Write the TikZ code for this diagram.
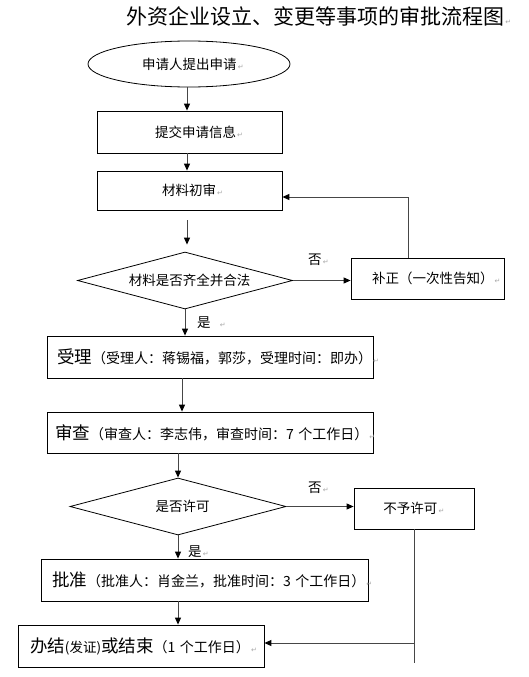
\documentclass[tikz,border=0pt]{standalone}
\usepackage{fontspec}
\setmainfont{Noto Sans CJK SC}
\newfontfamily\symfont{DejaVu Sans}
\usetikzlibrary{shapes.geometric,arrows.meta}
\newcommand\retm{{\symfont\fontsize{7}{7}\selectfont\color{gray!70}\,↵}}
\newcommand\fsS{\fontsize{13.5}{16}\selectfont}
\newcommand\fsP{\fontsize{14}{16}\selectfont}
\newcommand\fsL{\fontsize{17.5}{20}\selectfont}
\newcommand\fsT{\fontsize{21}{23}\selectfont}
\tikzset{
  box/.style={draw=black, line width=0.8pt, rectangle, inner sep=0pt, font=\fsS},
  lbox/.style={box, align=left},
  dec/.style={diamond, draw=black, line width=0.8pt, aspect=3.77, inner sep=0pt, font=\fsS},
  conn/.style={draw=gray!55!black, line width=1pt},
  arr/.style={conn, -{Triangle[length=7pt,width=6pt,color=black]}},
  lbl/.style={inner sep=0pt, font=\fsS, anchor=west}
}
\begin{document}
\begin{tikzpicture}[x=1pt,y=-1pt]
\useasboundingbox (0,0) rectangle (529,677);
\node[inner sep=0pt, anchor=west, font=\fsT] (title) at (126,16) {外资企业设立、变更等事项的审批流程图\retm};

\node[ellipse, draw=black, line width=0.8pt, minimum width=202pt, minimum height=46pt, inner sep=0pt, font=\fsS] (start) at (189,64) {\hspace*{8pt}申请人提出申请\retm};
\node[lbox, minimum height=42pt, text width=69pt, inner xsep=58pt] (submit) at (189.5,132) {\mbox{提交申请信息\retm}};
\node[lbox, minimum height=39pt, text width=55pt, inner xsep=65pt] (check) at (189.5,190.5) {\mbox{材料初审\retm}};
\node[dec, minimum width=215pt, minimum height=57pt] (d1) at (185,280.5) {\hspace*{9pt}材料是否齐全并合法};
\node[lbox, minimum height=41pt, text width=111pt, inner xsep=21pt] (fix) at (427.5,278.5) {\mbox{补正（一次性告知）\retm}};
\node[lbox, minimum height=42pt, text width=306pt, inner xsep=10pt] (accept) at (210,357) {\mbox{{\fsL 受理}{\fsP（受理人：蒋锡福，郭莎，受理时间：即办）}\retm}};
\node[lbox, minimum height=41pt, text width=310pt, inner xsep=8pt] (review) at (210,432.5) {\mbox{{\fsL 审查}{\fsP（审查人：李志伟，审查时间：7 个工作日）}\retm}};
\node[dec, minimum width=216pt, minimum height=57pt] (d2) at (178,506.5) {\hspace*{9pt}是否许可};
\node[box, minimum width=120pt, minimum height=41pt] (deny) at (414,508.5) {不予许可\retm};
\node[lbox, minimum height=42pt, text width=305pt, inner xsep=11pt] (approve) at (204.5,580) {\mbox{{\fsL 批准}{\fsP（批准人：肖金兰，批准时间：3 个工作日）}\retm}};
\node[lbox, minimum height=42pt, text width=222pt, inner xsep=12pt] (finish) at (141,646) {\mbox{{\fsL 办结{\fsS(发证)}或结束}{\fsP（1 个工作日）}\retm}};

\node[lbl] (no1) at (308,260) {否\retm};
\node[lbl] (yes1) at (197,323) {是\hspace{8pt}\retm};
\node[lbl] (no2) at (308,488) {否\retm};
\node[lbl] (yes2) at (188,552) {是\retm};

\coordinate (s1) at (187,0);
\coordinate (s2) at (182,0);
\draw[arr] (start.south -| s1) -- (submit.north -| s1);
\draw[arr] (submit.south -| s1) -- (check.north -| s1);
\draw[arr, shorten <=10pt, shorten >=7pt] (check.south -| s1) -- (d1.north -| s1);
\draw[arr] (d1.east) -- (fix.west |- d1.east);
\draw[arr] ([xshift=-19.5pt]fix.north) |- ([yshift=-6.5pt]check.east);
\draw[arr] (d1.south) -- (accept.north -| d1.south);
\draw[arr] (accept.south -| s2) -- (review.north -| s2);
\draw[arr] (review.south -| d2.north) -- (d2.north);
\draw[arr] (d2.east) -- (deny.west |- d2.east);
\draw[arr] (d2.south) -- (approve.north -| d2.south);
\draw[arr] (approve.south -| d2.south) -- (finish.north -| d2.south);
\draw[conn] (deny.south) -- (deny.south |- 0,663);
\draw[arr] (deny.south |- 0,643) -- (finish.east |- 0,643);
\end{tikzpicture}
\end{document}
